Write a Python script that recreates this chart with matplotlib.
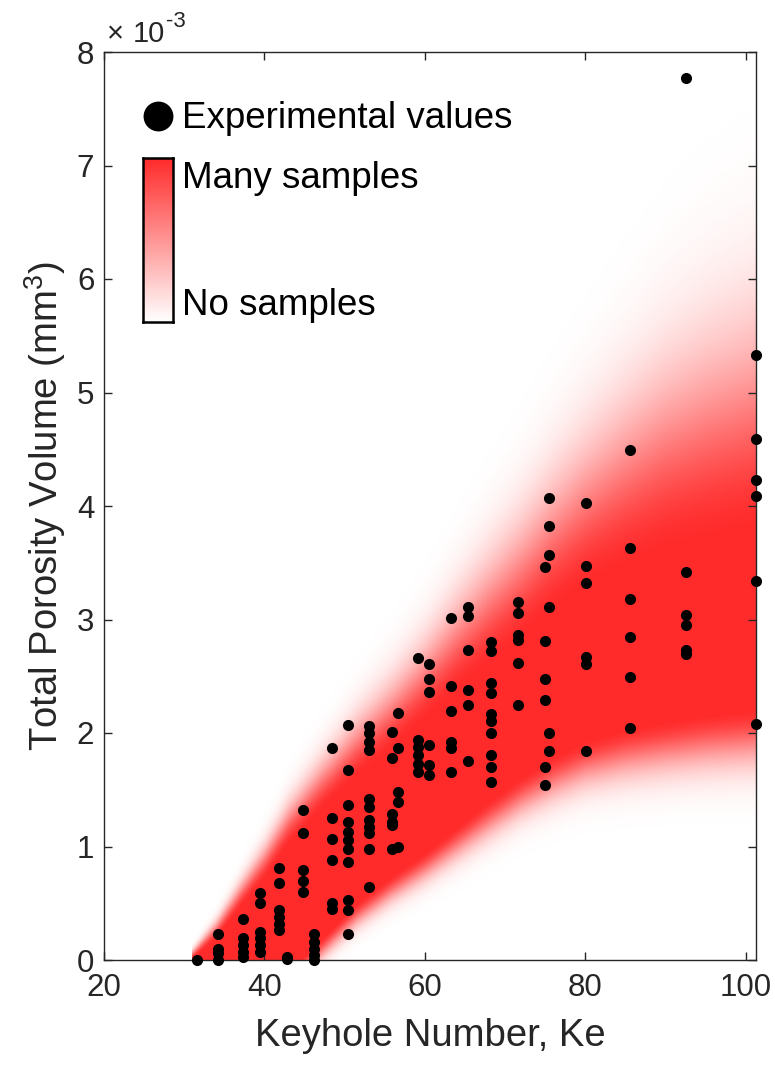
import numpy as np
import matplotlib.pyplot as plt
from matplotlib.colors import LinearSegmentedColormap

plt.rcParams['font.family'] = ['Liberation Sans', 'DejaVu Sans']
plt.rcParams['mathtext.default'] = 'regular'

# experimental values, grouped by keyhole number (volume in units of 1e-3 mm^3)
exp_ke = [31.55, 34.24, 37.36, 39.44, 41.84, 42.77, 44.83, 46.17, 48.37, 50.46,
          53.08, 55.89, 56.63, 59.17, 60.52, 63.33, 65.39, 68.3, 71.63, 74.95,
          75.45, 80.15, 85.63, 92.52, 101.25]
exp_vol = [
    [0.0],
    [0.23, 0.10, 0.06, 0.0],
    [0.36, 0.19, 0.13, 0.07, 0.03],
    [0.59, 0.50, 0.25, 0.19, 0.13, 0.07],
    [0.81, 0.68, 0.44, 0.38, 0.32, 0.26],
    [0.01, 0.03],
    [1.32, 1.12, 0.79, 0.70, 0.60],
    [0.23, 0.16, 0.10, 0.04, 0.0],
    [1.87, 1.25, 1.07, 0.88, 0.50, 0.45],
    [2.07, 1.67, 1.37, 1.22, 1.13, 1.06, 0.98, 0.86, 0.53, 0.44, 0.23],
    [2.06, 2.00, 1.92, 1.85, 1.42, 1.35, 1.23, 1.17, 1.12, 0.98, 0.64],
    [2.01, 1.78, 1.29, 1.22, 1.19, 0.98],
    [2.18, 1.87, 1.48, 1.39, 1.00],
    [2.66, 1.94, 1.88, 1.81, 1.73, 1.66],
    [2.61, 2.48, 2.36, 1.89, 1.72, 1.63],
    [3.01, 2.41, 2.19, 1.92, 1.87, 1.66],
    [3.11, 3.03, 2.73, 2.38, 2.25, 1.75],
    [2.80, 2.72, 2.44, 2.35, 2.17, 2.11, 2.00, 1.81, 1.70, 1.57],
    [3.15, 3.06, 2.86, 2.82, 2.62, 2.25],
    [3.46, 2.81, 2.48, 2.29, 1.70, 1.54],
    [4.07, 3.82, 3.57, 3.11, 2.00, 1.84],
    [4.03, 3.47, 3.32, 2.67, 2.61, 1.84],
    [4.49, 3.63, 3.18, 2.85, 2.49, 2.04],
    [7.77, 3.42, 3.04, 2.95, 2.73, 2.70],
    [5.33, 4.59, 4.23, 4.09, 3.34, 2.08],
]

# sampled band: dense region edges and how far the faint cloud reaches
band_ke = [31.0, 34.0, 37.0, 40.0, 43.0, 47.0, 51.5, 56.0, 60.0, 64.0, 68.0,
           72.0, 76.0, 80.0, 85.0, 90.0, 95.0, 101.3]
band_hi = [0.0, 0.18, 0.45, 0.70, 1.00, 1.30, 1.60, 1.85, 2.09, 2.35, 2.58,
           2.80, 3.05, 3.25, 3.42, 3.55, 3.63, 3.72]
band_lo = [-0.8, -0.7, -0.6, -0.32, -0.10, 0.18, 0.50, 0.75, 0.95, 1.18, 1.41,
           1.62, 1.80, 1.94, 2.05, 2.12, 2.18, 2.23]
fade_up = [0.07, 0.14, 0.2, 0.26, 0.32, 0.38, 0.45, 0.52, 0.6, 0.7, 0.8,
           0.9, 1.0, 1.1, 1.25, 1.4, 1.52, 1.62]
fade_lo = [0.10, 0.10, 0.10, 0.12, 0.14, 0.16, 0.18, 0.20, 0.22, 0.25, 0.28,
           0.30, 0.33, 0.35, 0.38, 0.40, 0.42, 0.44]

red = '#ff2b2b'
cmap = LinearSegmentedColormap.from_list('samples', ['white', red])
grey = '#262626'

fig = plt.figure(figsize=(7.75, 10.68), dpi=100)
ax = fig.add_axes([104/775, 108/1068, 652/775, 908/1068])

# density image built column by column from the band arrays
gx = np.linspace(band_ke[0], band_ke[-1], 700)
gy = np.linspace(0, 8, 900)
hi = np.interp(gx, band_ke, band_hi)
lo = np.interp(gx, band_ke, band_lo)
tu = np.interp(gx, band_ke, fade_up)
tl = np.interp(gx, band_ke, fade_lo)
Y = gy[:, None]
dens = np.ones((len(gy), len(gx)))
dens = np.where(Y > hi, np.exp(-((Y - hi) / tu) ** 2), dens)
dens = np.where(Y < lo, np.exp(-((lo - Y) / tl) ** 2), dens)
ax.imshow(dens, extent=[band_ke[0], band_ke[-1], 0, 8], origin='lower',
          aspect='auto', cmap=cmap, vmin=0, vmax=1, interpolation='bilinear',
          zorder=1)

xs = np.concatenate([[k] * len(v) for k, v in zip(exp_ke, exp_vol)])
ys = np.concatenate(exp_vol)
ax.plot(xs, ys, 'o', color='k', ms=8, mew=0, clip_on=False, zorder=3)

ax.set_xlim(20, 101.3)
ax.set_ylim(0, 8)
ax.set_xticks([20, 40, 60, 80, 100])
ax.set_yticks(range(9))
ax.tick_params(direction='in', top=True, right=True, length=6, width=1,
               colors=grey, labelsize=22.5)
ax.tick_params(axis='x', pad=9)
ax.tick_params(axis='y', pad=7)
for s in ax.spines.values():
    s.set_color(grey)
    s.set_linewidth(1.0)

ax.set_xlabel('Keyhole Number, Ke', fontsize=27.5, color=grey)
ax.xaxis.set_label_coords(0.5, -0.064)
ax.set_ylabel('Total Porosity Volume (mm$^3$)', fontsize=27.5, color=grey)
ax.yaxis.set_label_coords(-0.055, 0.5)

# axis multiplier
fig.text(107/775, 1 - 42/1068, '\u00d7', fontsize=21, color=grey,
         va='baseline', ha='left')
fig.text(133/775, 1 - 42/1068, '10', fontsize=21, color=grey,
         va='baseline', ha='left')
fig.text(166/775, 1 - 27/1068, '-3', fontsize=16, color=grey,
         va='baseline', ha='left')

# legend
ax.plot([0.0828], [0.9295], 'o', color='k', ms=21.5, mew=0,
        transform=ax.transAxes, clip_on=False, zorder=4)
ax.text(0.1196, 0.9163, 'Experimental values', transform=ax.transAxes,
        fontsize=26.5, va='baseline', ha='left', zorder=4)
ax.text(0.1196, 0.8502, 'Many samples', transform=ax.transAxes,
        fontsize=26.5, va='baseline', ha='left', zorder=4)
ax.text(0.1196, 0.7104, 'No samples', transform=ax.transAxes,
        fontsize=26.5, va='baseline', ha='left', zorder=4)

cax = fig.add_axes([143/775, (1068-322)/1068, 30/775, 164/1068])
cax.imshow(np.linspace(1, 0, 200)[:, None], aspect='auto', cmap=cmap,
           vmin=0, vmax=1)
cax.set_xticks([])
cax.set_yticks([])
for s in cax.spines.values():
    s.set_color('k')
    s.set_linewidth(1.8)

fig.savefig('out.png', dpi=100)
